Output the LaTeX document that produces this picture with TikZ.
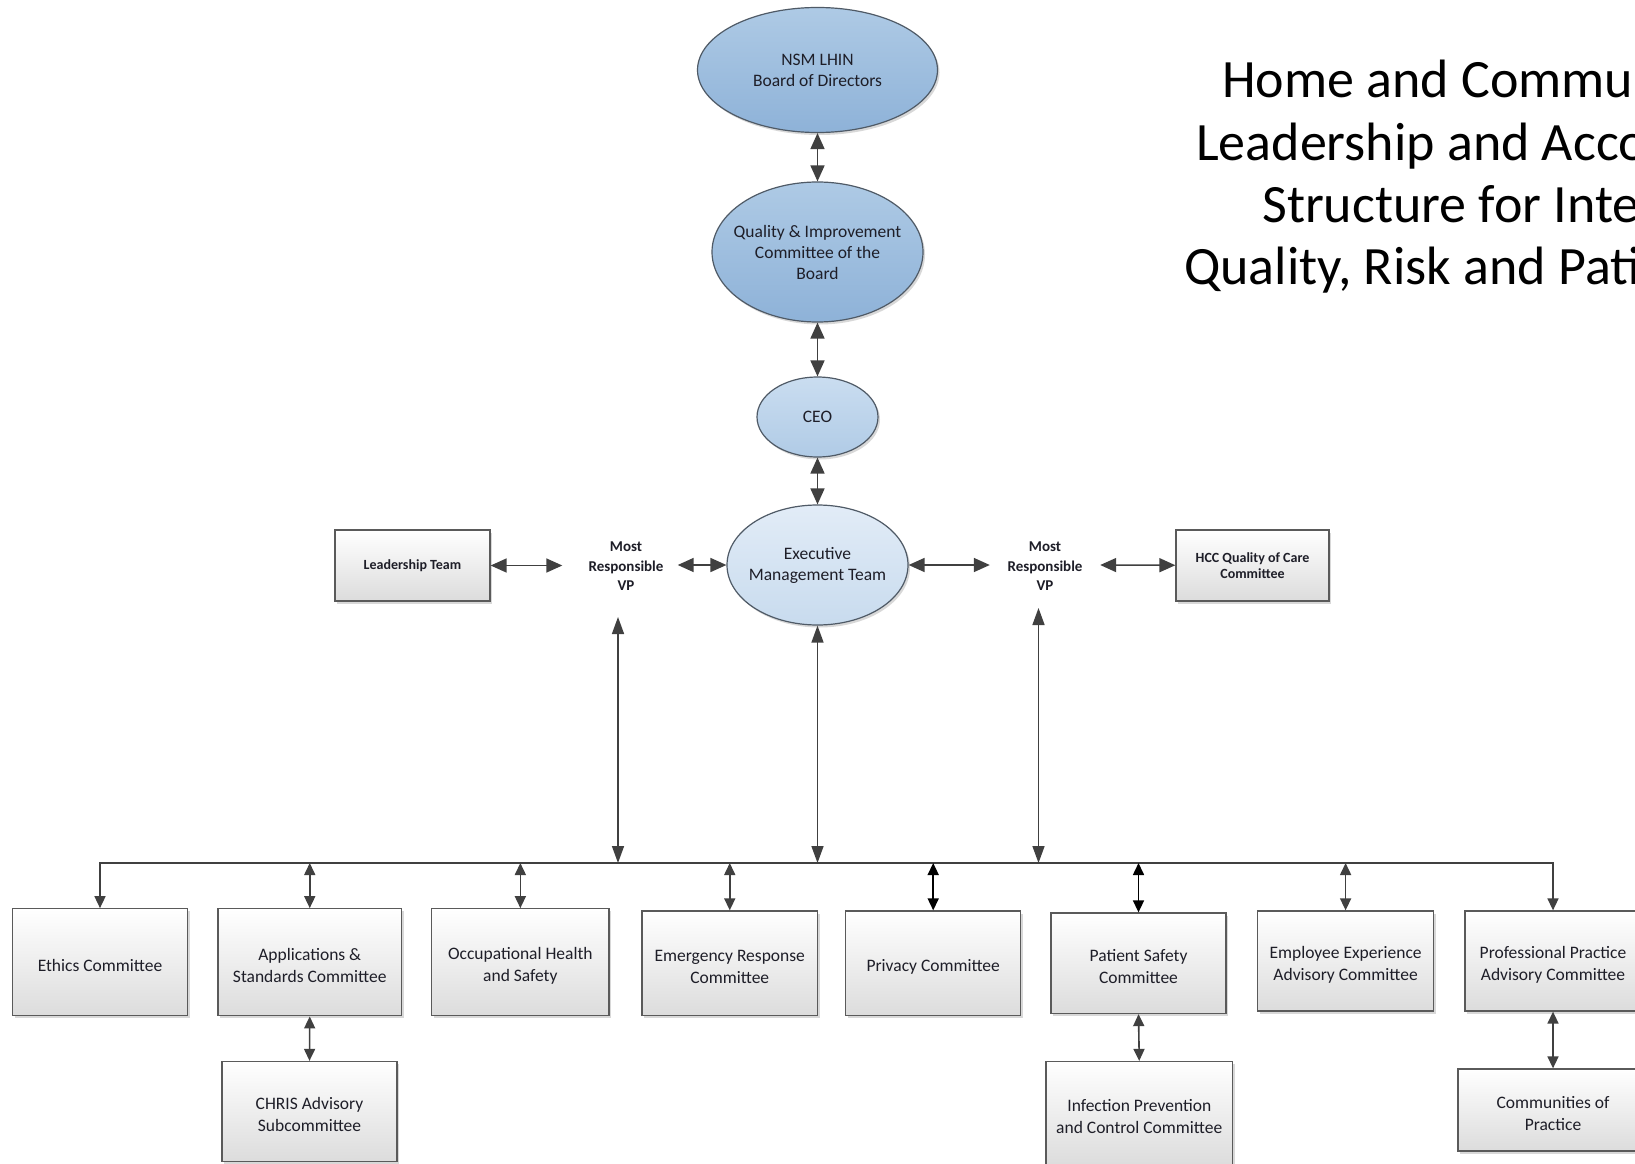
\documentclass[tikz,border=0pt]{standalone}
\usepackage{fontspec}
\setmainfont{Carlito}
\usetikzlibrary{arrows.meta,shapes.geometric,shadows,calc}
\definecolor{lineC}{HTML}{404040}
\definecolor{ellB}{HTML}{4F5A66}
\definecolor{boxB}{HTML}{5A5A5A}
\definecolor{boxBot}{HTML}{DCDCDC}
\definecolor{txtC}{HTML}{1E1E28}
\definecolor{eA1}{HTML}{AECAE5}
\definecolor{eA2}{HTML}{8EB2D8}
\definecolor{eB1}{HTML}{CADDF0}
\definecolor{eB2}{HTML}{B0CBE6}
\definecolor{eC1}{HTML}{E2ECF7}
\definecolor{eC2}{HTML}{C8DBEE}
\newcommand{\tstrut}{\rule{0pt}{19pt}}
\tikzset{
  shad/.style={drop shadow={shadow xshift=2pt,shadow yshift=-2.5pt,opacity=0.3}},
  etext/.style={inner sep=0pt, align=center, text=txtC, font=\fontsize{17.5}{21}\selectfont},
  ell/.style={ellipse, draw=ellB, line width=1.2pt, inner sep=0pt, shad},
  ellA/.style={ell, top color=eA1, bottom color=eA2},
  ellB/.style={ell, top color=eB1, bottom color=eB2},
  ellC/.style={ell, top color=eC1, bottom color=eC2},
  cbox/.style={rectangle, draw=boxB, line width=1.3pt, top color=white, bottom color=boxBot,
    align=center, inner sep=2pt, text=txtC, shad, font=\fontsize{17.5}{22}\selectfont},
  sbox/.style={rectangle, draw=boxB, line width=1.3pt, top color=white, bottom color=boxBot,
    align=center, inner sep=2pt, text=txtC, shad, font=\bfseries\fontsize{14}{16.5}\selectfont},
  vptext/.style={inner sep=0pt, align=center, text=txtC, font=\bfseries\fontsize{15}{19.5}\selectfont},
  ttl/.style={inner sep=0pt, anchor=base west, font=\fontsize{54}{62}\selectfont},
  bigarr/.style={draw=lineC, line width=1.6pt, {Triangle[length=16pt,width=14pt]}-{Triangle[length=16pt,width=14pt]}},
  varr/.style={draw=lineC, line width=1.5pt, {Triangle[length=17pt,width=12pt]}-{Triangle[length=17pt,width=12pt]}},
  darr/.style={draw=lineC, line width=1.6pt, {Triangle[length=12pt,width=11pt]}-{Triangle[length=12pt,width=11pt]}},
  sarr/.style={draw=lineC, line width=1.6pt, -{Triangle[length=12pt,width=11pt]}},
}
\begin{document}
\begin{tikzpicture}[x=1pt,y=-1pt]
\useasboundingbox (0,0) rectangle (1635,1164);
\clip (0,0) rectangle (1635,1164);
\fill[white] (0,0) rectangle (1635,1164);

% title
\node[ttl] (t1) at (1222,97) {Home and Community Care};
\node[ttl] (t2) at (1196,160) {Leadership and Accountability};
\node[ttl] (t3) at (1262,222) {Structure for Integrated};
\node[ttl] (t4) at (1184,284) {Quality, Risk and Patient Safety};

% ellipses
\node[ellA, minimum width=240pt, minimum height=125pt,
  label={[etext]center:NSM LHIN\\Board of Directors}] (nsm) at (817.5,70) {};
\node[ellA, minimum width=211pt, minimum height=140pt,
  label={[etext]center:Quality \& Improvement\\Committee of the\\Board}] (qic) at (817.5,252) {};
\node[ellB, minimum width=121pt, minimum height=80pt,
  label={[etext]center:CEO}] (ceo) at (817.5,417) {};
\node[ellC, minimum width=181pt, minimum height=120pt,
  label={[etext]center:Executive\\Management Team}] (emt) at (817.5,565) {};

% middle row
\node[sbox, minimum width=155pt, minimum height=71pt] (lt) at (412.5,565.5) {Leadership Team};
\node[sbox, minimum width=153pt, minimum height=71pt] (hcc) at (1252.5,565.5) {HCC Quality of Care\\Committee};
\node[vptext, minimum width=115pt] (vpl) at (626,566.5) {Most\\Responsible\\VP};
\node[vptext, minimum width=110pt] (vpr) at (1045,566.5) {Most\\Responsible\\VP};

% bottom boxes
\node[cbox, minimum width=175pt, minimum height=107pt] (eth) at (100,962.3) {\tstrut Ethics Committee};
\node[cbox, minimum width=183.5pt, minimum height=107pt] (app) at (309.75,962.3) {\tstrut Applications \&\\Standards Committee};
\node[cbox, minimum width=177.3pt, minimum height=107pt] (occ) at (520.35,962.3) {\tstrut Occupational Health\\and Safety};
\node[cbox, minimum width=175.5pt, minimum height=104.6pt] (emer) at (729.75,963.3) {\tstrut Emergency Response\\Committee};
\node[cbox, minimum width=175.2pt, minimum height=104.6pt] (priv) at (933.2,963.3) {\tstrut Privacy Committee};
\node[cbox, minimum width=175pt, minimum height=100.5pt] (pat) at (1138.5,963.25) {\tstrut Patient Safety\\Committee};
\node[cbox, minimum width=176.2pt, minimum height=100pt] (emp) at (1345.6,961) {\tstrut Employee Experience\\Advisory Committee};
\node[cbox, minimum width=176pt, minimum height=100pt] (prof) at (1553,961) {\tstrut Professional Practice\\Advisory Committee};
\node[cbox, minimum width=175pt, minimum height=100pt] (chris) at (309.5,1111.5) {\tstrut CHRIS Advisory\\Subcommittee};
\node[cbox, minimum width=186.5pt, minimum height=104pt] (inf) at (1139.25,1113.5) {\tstrut Infection Prevention\\and Control Committee};
\node[cbox, minimum width=190pt, minimum height=82pt] (comm) at (1553,1110) {\tstrut Communities of\\Practice};

% connectors top
\draw[bigarr] (nsm) -- (qic);
\draw[bigarr] (qic) -- (ceo);
\draw[bigarr] (ceo) -- (emt);
\draw[bigarr] (lt) -- ([xshift=-6pt]lt.east -| vpl.west);
\draw[bigarr] ([xshift=-6pt]emt.west -| vpl.east) -- (emt);
\draw[bigarr] (emt) -- (emt.east -| vpr.west);
\draw[bigarr] (emt.east -| vpr.east) -- (hcc);

% bus
\coordinate (bus) at (817.5,863);
\coordinate (vplb) at (618,617);
\coordinate (vprb) at (1038.5,608);
\draw[varr] (vplb) -- (vplb |- bus);
\draw[varr] (emt) -- (emt |- bus);
\draw[varr] (vprb) -- (vprb |- bus);
\draw[sarr] (bus) -| (eth.north);
\draw[sarr] (bus) -| (prof.north);
\draw[darr] (app.north |- bus) -- (app.north);
\draw[darr] (occ.north |- bus) -- (occ.north);
\draw[darr] (emer.north |- bus) -- (emer.north);
\draw[darr, draw=black] (priv.north |- bus) -- (priv.north);
\draw[darr, draw=black] (pat.north |- bus) -- (pat.north);
\draw[darr] (emp.north |- bus) -- (emp.north);
\draw[darr] (app.south) -- (chris.north);
\draw[darr] (pat.south) -- (inf.north);
\draw[darr] (prof.south) -- (comm.north);
\end{tikzpicture}
\end{document}
